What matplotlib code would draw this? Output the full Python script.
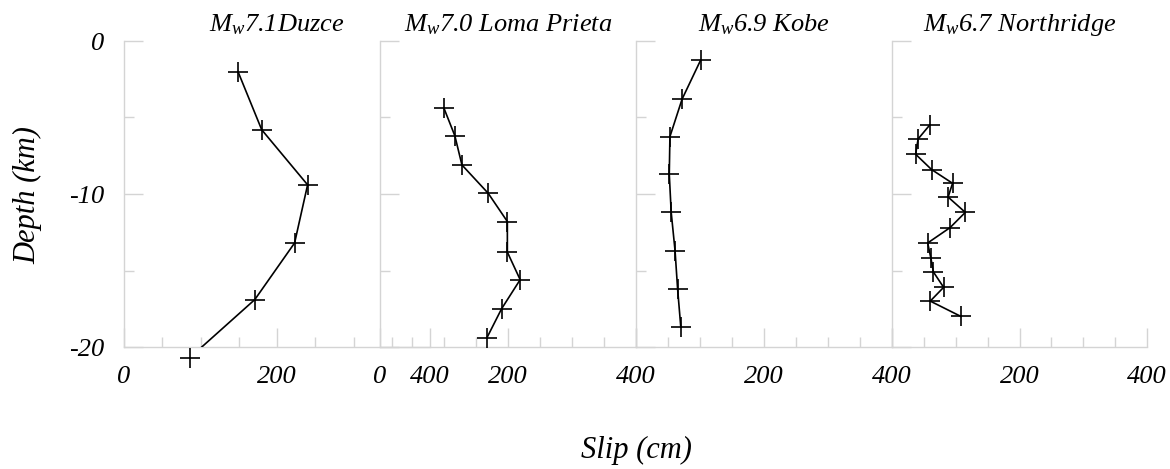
import matplotlib
matplotlib.use("Agg")
import matplotlib.pyplot as plt
from matplotlib.ticker import MultipleLocator, FixedLocator

# ---- data ----
titles = [r"$M_w$7.1Duzce", r"$M_w$7.0 Loma Prieta", r"$M_w$6.9 Kobe", r"$M_w$6.7 Northridge"]

duzce_slip = [149, 180, 240, 223, 171, 86]
duzce_depth = [-2.0, -5.8, -9.4, -13.2, -16.9, -20.7]

loma_slip = [100, 117, 128, 169, 199, 199, 219, 190, 167]
loma_depth = [-4.4, -6.2, -8.1, -9.95, -11.8, -13.8, -15.6, -17.5, -19.4]

kobe_slip = [101, 72, 53, 52, 55, 61, 65, 70]
kobe_depth = [-1.25, -3.8, -6.25, -8.7, -11.2, -13.7, -16.2, -18.7]

north_slip = [59, 41, 37, 62, 95, 88, 115, 91, 56, 61, 65, 81, 60, 108]
north_depth = [-5.5, -6.4, -7.4, -8.4, -9.3, -10.2, -11.2, -12.2, -13.2, -14.2, -15.1, -16.1, -17.0, -18.0]

series_slip = [duzce_slip, loma_slip, kobe_slip, north_slip]
series_depth = [duzce_depth, loma_depth, kobe_depth, north_depth]

x_major = [0, 200, 400]
y_major = [0, -10, -20]

# ---- style ----
plt.rcParams['font.family'] = ['Liberation Serif', 'DejaVu Serif']
plt.rcParams['font.style'] = 'italic'
plt.rcParams['mathtext.fontset'] = 'custom'
plt.rcParams['mathtext.it'] = 'Liberation Serif:italic'
plt.rcParams['mathtext.rm'] = 'Liberation Serif:italic'
plt.rcParams['axes.unicode_minus'] = False

W, H = 1170, 469
fig = plt.figure(figsize=(W / 100, H / 100), dpi=100)

grey = '#d4d4d4'
# panel boxes in pixel coordinates: (left, width)
boxes = [(124, 306), (380, 256), (636, 256), (892, 255)]
top_px, bot_px = 41, 347

for i, (left, width) in enumerate(boxes):
    ax = fig.add_axes([left / W, (H - bot_px) / H, width / W, (bot_px - top_px) / H])
    ax.patch.set_visible(False)
    ax.set_xlim(0, 400)
    ax.set_ylim(-20, 0)
    for s in ['top', 'right']:
        ax.spines[s].set_visible(False)
    for s in ['left', 'bottom']:
        ax.spines[s].set_color(grey)
        ax.spines[s].set_linewidth(1.0)
    ax.xaxis.set_major_locator(FixedLocator(x_major))
    ax.xaxis.set_minor_locator(MultipleLocator(50))
    ax.yaxis.set_major_locator(FixedLocator(y_major))
    ax.yaxis.set_minor_locator(MultipleLocator(5))
    ax.tick_params(which='both', direction='in', color=grey, width=1.0,
                   labelsize=19, pad=14)
    ax.tick_params(which='major', length=14)
    ax.tick_params(which='minor', length=7)
    # the "0" of panels 3 and 4 sits under the previous panel's "400"
    labels = [str(v) for v in x_major]
    if i >= 2:
        labels[0] = ''
    ax.set_xticklabels(labels)
    if i == 0:
        ax.set_yticklabels([str(v) for v in y_major])
    else:
        ax.tick_params(axis='y', labelleft=False)

    ax.plot(series_slip[i], series_depth[i], color='black', lw=1.2, clip_on=True, zorder=3)
    ax.plot(series_slip[i], series_depth[i], ls='none', marker='+', ms=14, mew=1.2,
            color='black', clip_on=False, zorder=4)
    ax.set_title(titles[i], fontsize=19, pad=7)

fig.text(28 / W, 1 - 195 / H, 'Depth (km)', rotation=90, ha='center', va='center', fontsize=22)
fig.text(636 / W, 1 - 450 / H, 'Slip (cm)', ha='center', va='center', fontsize=22)

fig.savefig('out.png', dpi=100)
